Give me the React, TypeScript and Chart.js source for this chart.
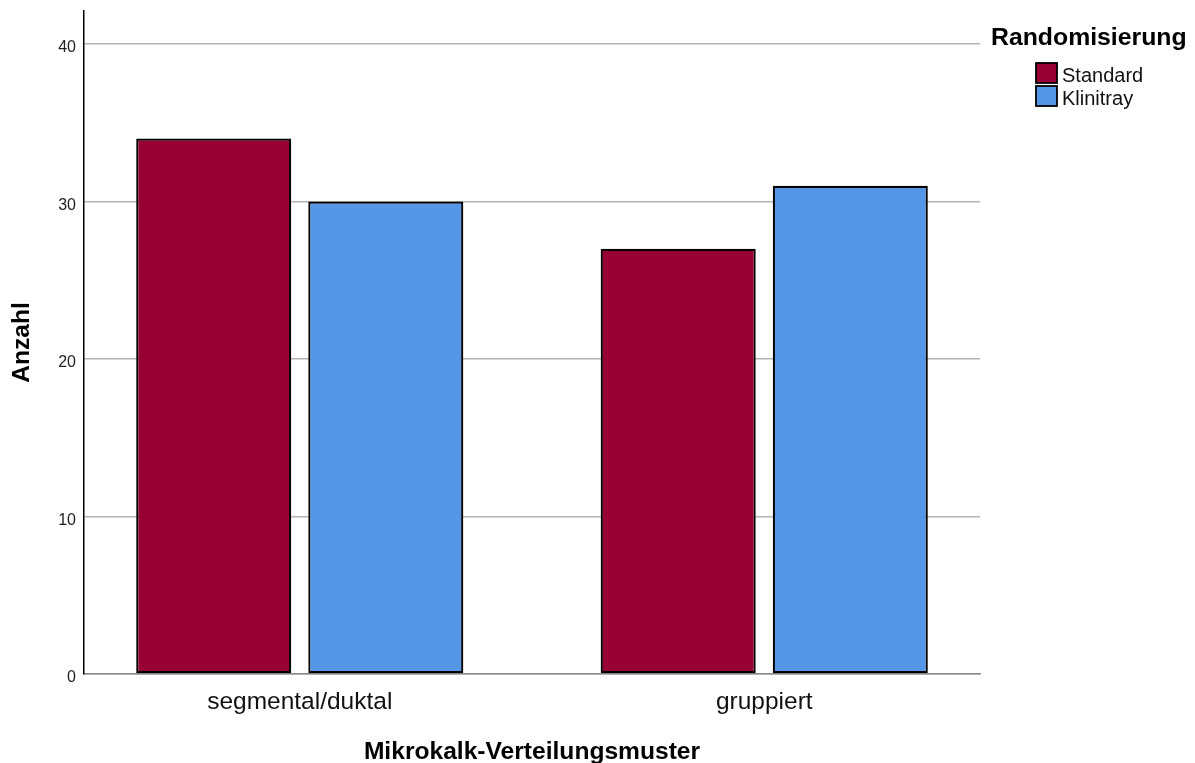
import { useEffect, useRef } from "react";
import { Chart, registerables } from "chart.js";

Chart.register(...registerables);

const categories = ["segmental/duktal", "gruppiert"];
const seriesNames = ["Standard", "Klinitray"];
const standardValues = [34, 27];
const klinitrayValues = [30, 31];
const yTickValues = [0, 10, 20, 30, 40];
const xTitle = "Mikrokalk-Verteilungsmuster";
const yTitle = "Anzahl";
const legendTitle = "Randomisierung";

const FONT = '"Liberation Sans", Arial, Helvetica, sans-serif';
const RED = "#990033";
const BLUE = "#5596E6";

export default function App() {
  const ref = useRef<HTMLCanvasElement>(null);

  useEffect(() => {
    const canvas = ref.current;
    if (!canvas) return;

    const legendPlugin = {
      id: "spssLegend",
      afterDraw(chart: any) {
        const ctx = chart.ctx as CanvasRenderingContext2D;
        ctx.save();
        ctx.textAlign = "left";
        ctx.textBaseline = "alphabetic";
        ctx.fillStyle = "#000";
        ctx.font = `bold 24.8px ${FONT}`;
        ctx.fillText(legendTitle, 991, 45);
        ctx.font = `20px ${FONT}`;
        chart.data.datasets.forEach((ds: any, i: number) => {
          const y = 63 + i * 23;
          ctx.fillStyle = ds.backgroundColor;
          ctx.fillRect(1036, y, 21, 20);
          ctx.strokeStyle = "#000";
          ctx.lineWidth = 1.8;
          ctx.strokeRect(1036, y, 21, 20);
          ctx.fillStyle = "#111";
          ctx.fillText(ds.label, 1062, y + 18.5);
        });
        ctx.restore();
      },
    };

    const chart = new Chart(canvas, {
      type: "bar",
      data: {
        datasets: [
          {
            label: seriesNames[0],
            data: standardValues.map((v, i) => ({ x: i, y: v })),
            backgroundColor: RED,
            borderColor: "#000",
            borderWidth: 2.2,
            borderSkipped: false,
          },
          {
            label: seriesNames[1],
            data: klinitrayValues.map((v, i) => ({ x: i, y: v })),
            backgroundColor: BLUE,
            borderColor: "#000",
            borderWidth: 2.2,
            borderSkipped: false,
          },
        ],
      },
      options: {
        responsive: false,
        animation: false,
        layout: { padding: { top: 11, right: 215, left: 0, bottom: 0 } },
        plugins: {
          legend: { display: false },
          tooltip: { enabled: false },
        },
        datasets: {
          bar: { categoryPercentage: 0.741, barPercentage: 0.901 },
        },
        scales: {
          x: {
            type: "linear",
            min: -0.4645,
            max: 1.4645,
            offset: false,
            afterBuildTicks: (s: any) => {
              s.ticks = categories.map((_, i) => ({ value: i }));
            },
            afterFit: (s: any) => {
              s.height = 89;
              s.paddingLeft = 0;
              s.paddingRight = 0;
            },
            grid: { display: false, drawTicks: false },
            border: { display: true, color: "#8a8a8a", width: 1.5 },
            ticks: {
              callback: (v: any) => categories[v] ?? "",
              font: { family: FONT, size: 24.5 },
              color: "#111",
              padding: 13.5,
              maxRotation: 0,
              autoSkip: false,
            },
            title: {
              display: true,
              text: xTitle,
              color: "#000",
              font: { family: FONT, size: 24.6, weight: "bold", lineHeight: 1 },
              padding: { top: 0, bottom: -1.7 },
            },
          },
          y: {
            min: 0,
            max: 42.1,
            afterBuildTicks: (s: any) => {
              s.ticks = yTickValues.map((v) => ({ value: v }));
            },
            afterFit: (s: any) => {
              s.width = 84;
              s.paddingTop = 0;
              s.paddingBottom = 0;
            },
            grid: { color: "#b4b4b4", lineWidth: 1.5, drawTicks: false },
            border: { display: true, color: "#000", width: 1.5 },
            ticks: {
              font: { family: FONT, size: 16 },
              color: "#222",
              padding: 8,
              labelOffset: 4,
            },
            title: {
              display: true,
              text: yTitle,
              color: "#000",
              font: { family: FONT, size: 24.6, weight: "bold", lineHeight: 1 },
              padding: { top: 10, bottom: 0 },
            },
          },
        },
      } as any,
      plugins: [legendPlugin],
    });

    return () => chart.destroy();
  }, []);

  return (
    <div style={{ position: "absolute", left: 0, top: 0, width: 1195, height: 763, background: "#fff" }}>
      <canvas ref={ref} width={1195} height={763} />
    </div>
  );
}
